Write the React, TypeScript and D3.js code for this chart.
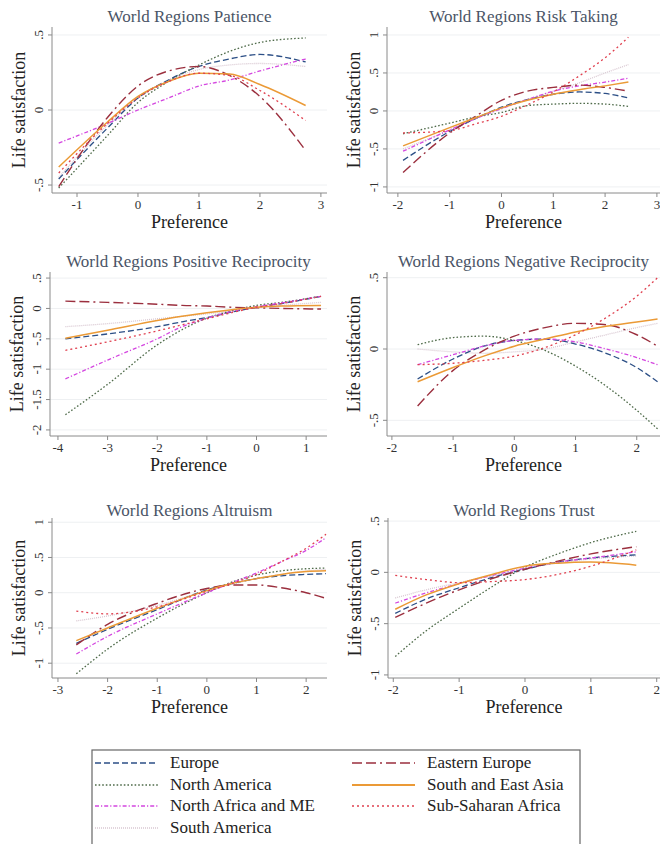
import React from "react";
import * as d3 from "d3";

const regions = [
  "Europe",
  "North America",
  "North Africa and ME",
  "South America",
  "Eastern Europe",
  "South and East Asia",
  "Sub-Saharan Africa",
];

const panelTitles = [
  "World Regions Patience",
  "World Regions Risk Taking",
  "World Regions Positive Reciprocity",
  "World Regions Negative Reciprocity",
  "World Regions Altruism",
  "World Regions Trust",
];

// Patience
const patienceX = [-1.3, -0.5, 0, 0.5, 1, 1.5, 2, 2.75];
const patienceY = [
  [-0.46, -0.12, 0.08, 0.2, 0.29, 0.34, 0.37, 0.32],
  [-0.52, -0.17, 0.05, 0.19, 0.3, 0.39, 0.45, 0.48],
  [-0.22, -0.09, 0.0, 0.08, 0.16, 0.2, 0.26, 0.34],
  [-0.45, -0.1, 0.08, 0.2, 0.27, 0.3, 0.31, 0.29],
  [-0.51, -0.05, 0.16, 0.26, 0.29, 0.23, 0.09, -0.27],
  [-0.38, -0.08, 0.09, 0.19, 0.245, 0.24, 0.17, 0.03],
  [-0.42, -0.09, 0.08, 0.19, 0.245, 0.23, 0.13, -0.07],
];

// Risk taking
const riskX = [-1.9, -1, -0.5, 0, 0.5, 1, 1.5, 2, 2.45];
const riskY = [
  [-0.65, -0.27, -0.1, 0.05, 0.15, 0.22, 0.25, 0.23, 0.17],
  [-0.3, -0.16, -0.08, -0.02, 0.07, 0.09, 0.1, 0.09, 0.06],
  [-0.53, -0.25, -0.1, 0.03, 0.15, 0.26, 0.33, 0.38, 0.43],
  [-0.5, -0.25, -0.1, 0.03, 0.15, 0.26, 0.37, 0.5, 0.61],
  [-0.81, -0.29, -0.07, 0.14, 0.26, 0.31, 0.34, 0.31, 0.26],
  [-0.46, -0.22, -0.09, 0.04, 0.14, 0.22, 0.28, 0.33, 0.38],
  [-0.29, -0.26, -0.17, -0.07, 0.08, 0.25, 0.46, 0.7, 0.97],
];

// Positive reciprocity
const posRecX = [-3.85, -3, -2, -1.5, -1, -0.5, 0, 0.5, 1.3];
const posRecY = [
  [-0.5, -0.42, -0.3, -0.22, -0.15, -0.06, 0.02, 0.08, 0.2],
  [-1.75, -1.25, -0.6, -0.35, -0.16, -0.04, 0.05, 0.1, 0.2],
  [-1.16, -0.85, -0.5, -0.3, -0.16, -0.05, 0.03, 0.09, 0.2],
  [-0.3, -0.25, -0.17, -0.13, -0.09, -0.04, 0.01, 0.05, 0.1],
  [0.12, 0.1, 0.07, 0.05, 0.04, 0.02, 0.01, 0.0, -0.01],
  [-0.49, -0.36, -0.2, -0.13, -0.07, -0.02, 0.02, 0.04, 0.05],
  [-0.69, -0.55, -0.37, -0.27, -0.17, -0.07, 0.02, 0.08, 0.2],
];

// Negative reciprocity
const negRecX = [-1.58, -1, -0.5, 0, 0.5, 1, 1.5, 2, 2.34];
const negRecY = [
  [-0.21, -0.07, 0.02, 0.06, 0.07, 0.035, -0.03, -0.13, -0.23],
  [0.03, 0.08, 0.09, 0.06, -0.01, -0.12, -0.26, -0.43, -0.56],
  [-0.11, -0.04, 0.02, 0.06, 0.07, 0.05, 0.0, -0.06, -0.11],
  [0.0, -0.02, -0.03, -0.02, 0.0, 0.05, 0.1, 0.15, 0.18],
  [-0.4, -0.15, -0.01, 0.09, 0.15, 0.18, 0.17, 0.1, 0.02],
  [-0.23, -0.13, -0.05, 0.02, 0.07, 0.12, 0.16, 0.19, 0.21],
  [-0.11, -0.1, -0.08, -0.05, 0.01, 0.1, 0.22, 0.37, 0.5],
];

// Altruism
const altruismX = [-2.63, -2, -1, 0, 0.5, 1, 1.5, 2, 2.4];
const altruismY = [
  [-0.72, -0.52, -0.24, 0.04, 0.13, 0.2, 0.24, 0.26, 0.27],
  [-1.15, -0.8, -0.36, 0.0, 0.15, 0.25, 0.31, 0.34, 0.35],
  [-0.87, -0.62, -0.3, 0.0, 0.14, 0.28, 0.44, 0.6, 0.78],
  [-0.4, -0.33, -0.18, 0.03, 0.12, 0.2, 0.26, 0.31, 0.33],
  [-0.74, -0.45, -0.15, 0.06, 0.11, 0.11, 0.07, 0.0, -0.08],
  [-0.68, -0.5, -0.22, 0.03, 0.13, 0.2, 0.26, 0.3, 0.31],
  [-0.26, -0.3, -0.2, 0.02, 0.13, 0.26, 0.44, 0.63, 0.83],
];

// Trust
const trustX = [-1.97, -1.5, -1, -0.5, 0, 0.5, 1, 1.69];
const trustY = [
  [-0.4, -0.26, -0.15, -0.05, 0.03, 0.1, 0.14, 0.17],
  [-0.82, -0.57, -0.35, -0.14, 0.05, 0.18, 0.29, 0.4],
  [-0.3, -0.2, -0.11, -0.03, 0.04, 0.1, 0.14, 0.2],
  [-0.25, -0.17, -0.1, -0.03, 0.04, 0.09, 0.13, 0.16],
  [-0.44, -0.3, -0.17, -0.06, 0.03, 0.11, 0.18, 0.25],
  [-0.36, -0.22, -0.11, -0.02, 0.06, 0.09, 0.1, 0.07],
  [-0.03, -0.07, -0.1, -0.09, -0.07, -0.02, 0.06, 0.22],
];

const xTicks = [
  [-1, 0, 1, 2, 3],
  [-2, -1, 0, 1, 2, 3],
  [-4, -3, -2, -1, 0, 1],
  [-2, -1, 0, 1, 2],
  [-3, -2, -1, 0, 1, 2],
  [-2, -1, 0, 1, 2],
];
const yTicks = [
  [-0.5, 0, 0.5],
  [-1, -0.5, 0, 0.5, 1],
  [-2, -1.5, -1, -0.5, 0, 0.5],
  [-0.5, 0, 0.5],
  [-1, -0.5, 0, 0.5, 1],
  [-1, -0.5, 0, 0.5],
];

const panelXs = [patienceX, riskX, posRecX, negRecX, altruismX, trustX];
const panelYs = [patienceY, riskY, posRecY, negRecY, altruismY, trustY];

// ---- layout & style (not data) ----
const layout = [
  { l: 52, r: 327, t: 27, b: 193, xd: [-1.41, 3.1], yd: [-0.553, 0.553], ty: 22 },
  { l: 387, r: 660, t: 27, b: 193, xd: [-2.21, 3.06], yd: [-1.08, 1.105], ty: 22 },
  { l: 50, r: 327, t: 272, b: 436, xd: [-4.16, 1.42], yd: [-2.1, 0.6], ty: 267 },
  { l: 387, r: 660, t: 272, b: 436, xd: [-2.08, 2.38], yd: [-0.61, 0.54], ty: 267 },
  { l: 52, r: 327, t: 518, b: 678, xd: [-3.12, 2.42], yd: [-1.21, 1.06], ty: 516 },
  { l: 388, r: 660, t: 518, b: 678, xd: [-2.08, 2.05], yd: [-1.03, 0.53], ty: 516 },
];

const styles = [
  { color: "#2c4f86", dash: "6,3", w: 1.3 },
  { color: "#4f6b4a", dash: "1.6,2", w: 1.3 },
  { color: "#d447e0", dash: "4,2,1.2,2", w: 1.3 },
  { color: "#d9c8d2", dash: "1,1", w: 1.3 },
  { color: "#9b2f3e", dash: "10,4,10,4,2,4", w: 1.4 },
  { color: "#eb9a36", dash: "", w: 1.5 },
  { color: "#e0404f", dash: "2,3", w: 1.3 },
];

const FONT = "'Liberation Serif', 'DejaVu Serif', serif";
const fmt = (v: number) => String(v).replace("0.", ".");

function Panel({ i }: { i: number }) {
  const L = layout[i];
  const x = d3.scaleLinear().domain(L.xd).range([L.l, L.r]);
  const y = d3.scaleLinear().domain(L.yd).range([L.b, L.t]);
  const xs = panelXs[i];
  const line = d3
    .line<number>()
    .x((_, k) => x(xs[k]))
    .y((v) => y(v))
    .curve(d3.curveMonotoneX);
  const cx = (L.l + L.r) / 2;
  const cy = (L.t + L.b) / 2;
  const order = [3, 0, 1, 2, 4, 5, 6];
  return (
    <g>
      <text x={cx} y={L.ty} textAnchor="middle" fontSize={17} fill="#4a5466" fontFamily={FONT}>
        {panelTitles[i]}
      </text>
      {yTicks[i].map((t) => (
        <line key={"g" + t} x1={L.l} x2={L.r} y1={y(t)} y2={y(t)} stroke="#eef0f2" strokeWidth={1} />
      ))}
      {order.map((s) => (
        <path
          key={s}
          d={line(panelYs[i][s]) || ""}
          fill="none"
          stroke={styles[s].color}
          strokeWidth={styles[s].w}
          strokeDasharray={styles[s].dash || undefined}
        />
      ))}
      <line x1={L.l} x2={L.l} y1={L.t} y2={L.b} stroke="#8a8a8a" strokeWidth={1} />
      <line x1={L.l} x2={L.r} y1={L.b} y2={L.b} stroke="#8a8a8a" strokeWidth={1} />
      {yTicks[i].map((t) => (
        <g key={"y" + t}>
          <line x1={L.l - 4} x2={L.l} y1={y(t)} y2={y(t)} stroke="#8a8a8a" />
          <text
            transform={`translate(${L.l - 9},${y(t)}) rotate(-90)`}
            textAnchor="middle"
            fontSize={13}
            fill="#333"
            fontFamily={FONT}
          >
            {fmt(t)}
          </text>
        </g>
      ))}
      {xTicks[i].map((t) => (
        <g key={"x" + t}>
          <line x1={x(t)} x2={x(t)} y1={L.b} y2={L.b + 4} stroke="#8a8a8a" />
          <text x={x(t)} y={L.b + 16} textAnchor="middle" fontSize={13} fill="#333" fontFamily={FONT}>
            {fmt(t)}
          </text>
        </g>
      ))}
      <text x={cx} y={L.b + 35} textAnchor="middle" fontSize={18} fill="#222" fontFamily={FONT}>
        Preference
      </text>
      <text
        transform={`translate(${L.l - 27},${cy}) rotate(-90)`}
        textAnchor="middle"
        fontSize={18}
        fill="#222"
        fontFamily={FONT}
      >
        Life satisfaction
      </text>
    </g>
  );
}

const legendPos = [
  { x: 95, y: 763 },
  { x: 95, y: 785 },
  { x: 95, y: 806 },
  { x: 95, y: 828 },
  { x: 352, y: 763 },
  { x: 352, y: 785 },
  { x: 352, y: 806 },
];

export default function App() {
  return (
    <svg
      width={660}
      height={844}
      style={{ position: "absolute", left: 0, top: 0, background: "#fff" }}
    >
      <rect x={0} y={0} width={660} height={844} fill="#fff" />
      {panelTitles.map((_, i) => (
        <Panel key={i} i={i} />
      ))}
      <rect x={92} y={750} width={488} height={110} fill="none" stroke="#666" strokeWidth={1.2} />
      {regions.map((name, s) => (
        <g key={name}>
          <line
            x1={legendPos[s].x}
            x2={legendPos[s].x + 63}
            y1={legendPos[s].y}
            y2={legendPos[s].y}
            stroke={styles[s].color}
            strokeWidth={styles[s].w + 0.3}
            strokeDasharray={styles[s].dash || undefined}
          />
          <text
            x={legendPos[s].x + 75}
            y={legendPos[s].y + 5}
            fontSize={17}
            fill="#222"
            fontFamily={FONT}
          >
            {name}
          </text>
        </g>
      ))}
    </svg>
  );
}
